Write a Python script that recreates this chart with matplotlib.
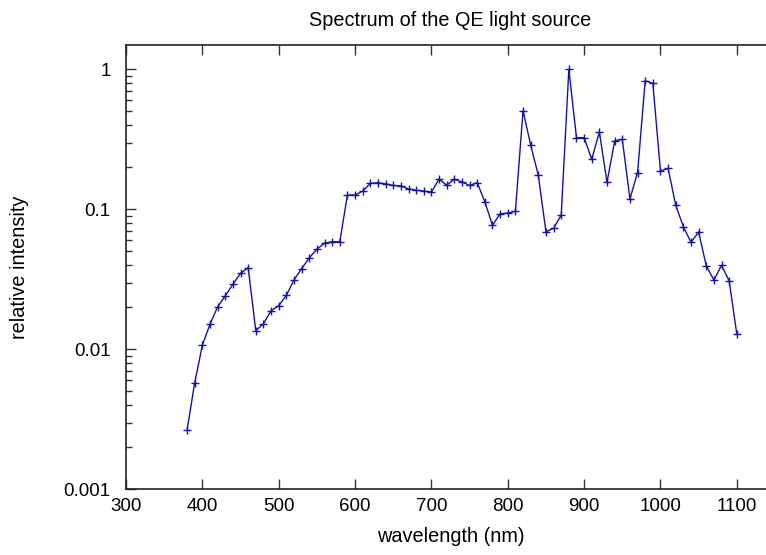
import matplotlib
matplotlib.use("Agg")
from matplotlib import pyplot as plt
from matplotlib.ticker import LogLocator, FixedLocator, NullFormatter
import numpy as np

# wavelength grid (nm) and relative intensity
wavelength = np.arange(380, 1101, 10)
intensity = [
    0.00265, 0.00577, 0.0107, 0.0151, 0.0201, 0.0241, 0.0291, 0.0349, 0.0383,
    0.0136, 0.0152, 0.0189, 0.0205, 0.0243, 0.0313, 0.0377, 0.0450, 0.0519,
    0.0572, 0.0587, 0.0587, 0.1265, 0.1265, 0.135, 0.153, 0.155, 0.152, 0.148,
    0.147, 0.140, 0.137, 0.135, 0.133, 0.164, 0.149, 0.164, 0.157, 0.148,
    0.155, 0.113, 0.0769, 0.093, 0.094, 0.097, 0.506, 0.288, 0.175, 0.0692,
    0.0731, 0.091, 1.0, 0.325, 0.325, 0.228, 0.357, 0.156, 0.308, 0.316,
    0.119, 0.183, 0.829, 0.794, 0.188, 0.196, 0.107, 0.0751, 0.0581, 0.0688,
    0.0394, 0.0313, 0.0398, 0.0308, 0.0128,
]
x_ticks = [300, 400, 500, 600, 700, 800, 900, 1000, 1100]
y_ticks = [0.001, 0.01, 0.1, 1]
y_tick_labels = ["0.001", "0.01", "0.1", "1"]

plt.rcParams['font.family'] = ['Liberation Sans', 'DejaVu Sans']
FS = 13.5
FS_LABEL = 14.3

fig = plt.figure(figsize=(7.66, 5.55), dpi=100)
ax = fig.add_axes([126 / 766, 65.7 / 555, 649 / 766, 444.6 / 555])

ax.plot(wavelength, intensity, color="#1414a0", lw=1.0,
        marker="+", markersize=6, markeredgewidth=1.0)

ax.set_yscale("log")
ax.set_xlim(300, 1150)
ax.set_ylim(0.001, 1.5)

ax.xaxis.set_major_locator(FixedLocator(x_ticks))
ax.set_yticks(y_ticks)
ax.set_yticklabels(y_tick_labels)
ax.yaxis.set_minor_locator(LogLocator(base=10, subs=np.arange(2, 10)))
ax.yaxis.set_minor_formatter(NullFormatter())

ax.tick_params(axis="x", which="major", direction="in", length=7, width=1,
               top=True, labelsize=FS, pad=6, colors="#333333", labelcolor="black")
ax.tick_params(axis="y", which="major", direction="in", length=7, width=1,
               right=False, labelsize=FS, pad=11, colors="#333333", labelcolor="black")
ax.tick_params(axis="y", which="minor", direction="in", length=4, width=1,
               right=False, colors="#333333")

for s in ax.spines.values():
    s.set_linewidth(1.2)
    s.set_color("#222222")

ax.set_xlabel("wavelength (nm)", fontsize=FS_LABEL, labelpad=9)
fig.text(20 / 766, 1 - 267 / 555, "relative intensity", rotation=90,
         ha="center", va="center", fontsize=FS_LABEL)
fig.text(450 / 766, 1 - 21 / 555, "Spectrum of the QE light source",
         ha="center", va="center", fontsize=FS_LABEL)

fig.savefig("out.png", dpi=100)
